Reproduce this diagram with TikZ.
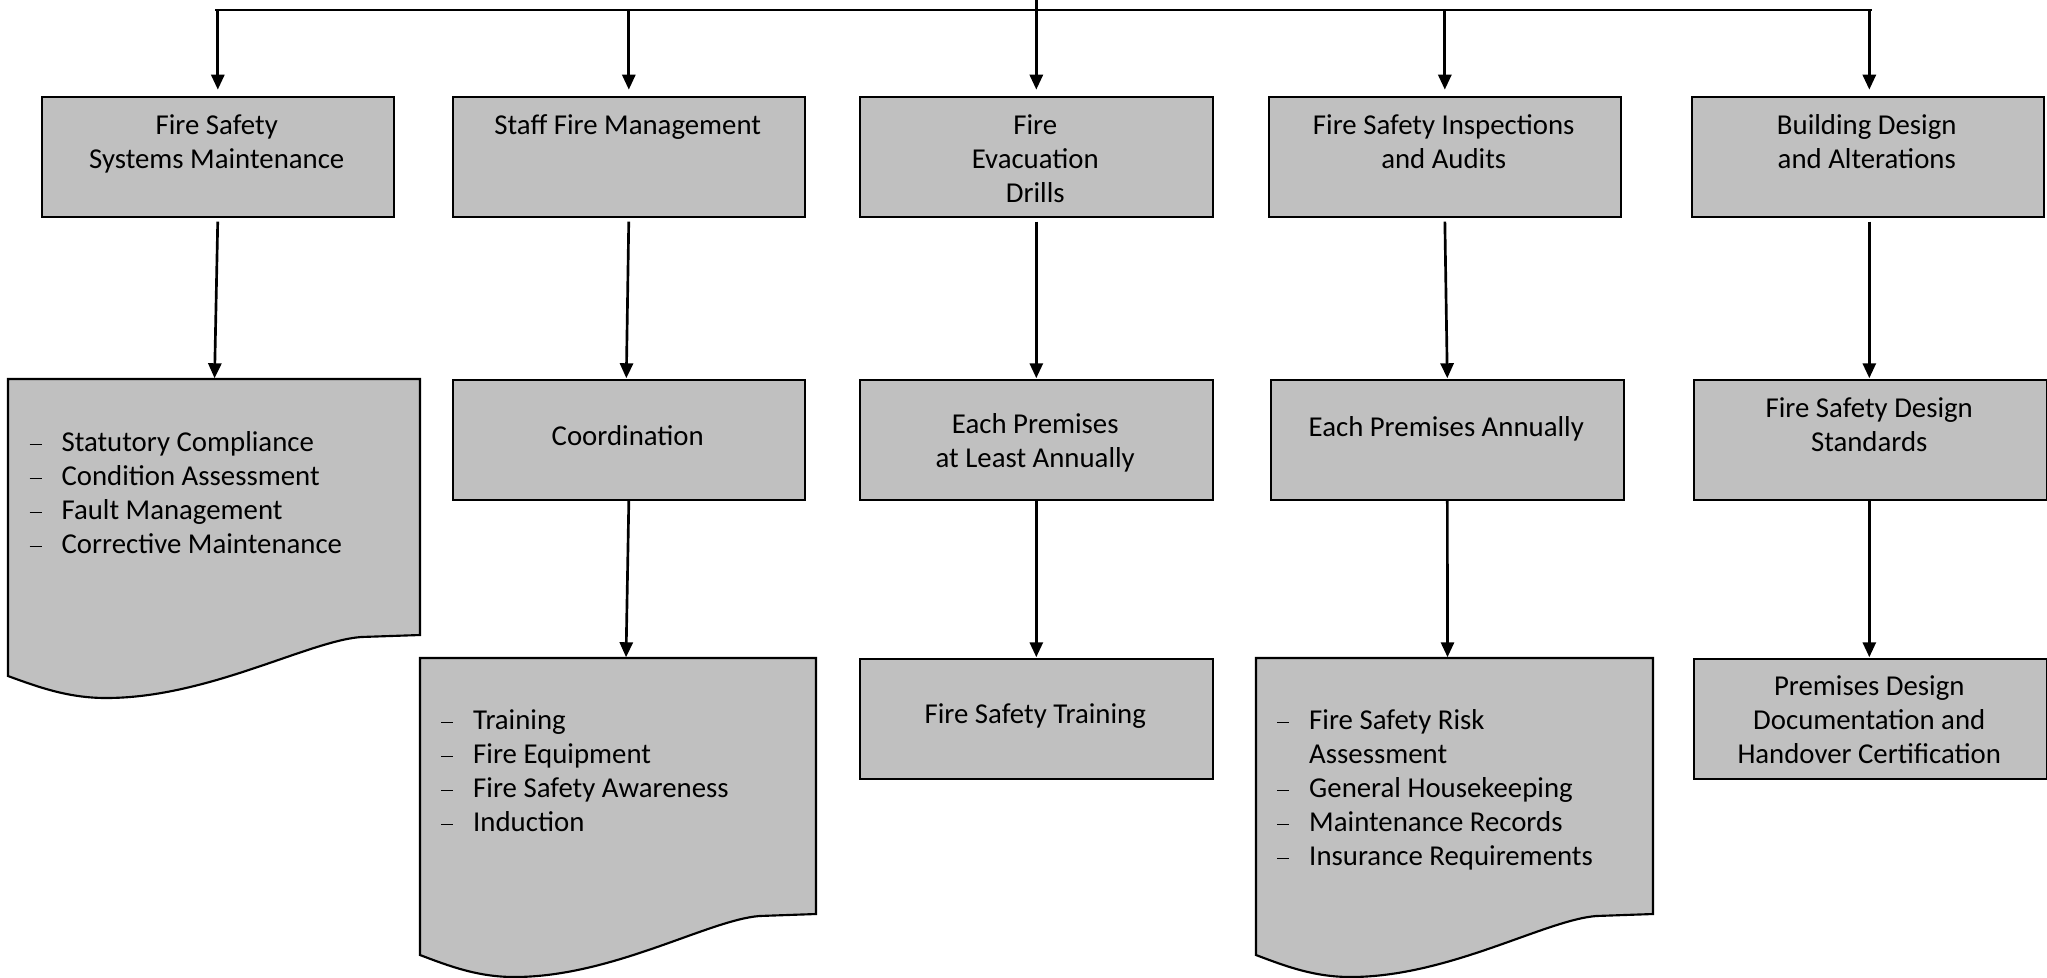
\documentclass[tikz,border=0pt]{standalone}
\usepackage{fontspec}
\setmainfont{Carlito}
\usetikzlibrary{arrows.meta,calc}
\definecolor{boxgray}{RGB}{192,192,192}
\newcommand\dsh{\rule[2.1pt]{4.5pt}{0.7pt}}
\newcommand\mybox[4]{\node[box,minimum width={#4*0.375pt},minimum height={120*0.375pt}] (#1) at (#2,#3) {};}
\newcommand\docshape[4]{%
  \filldraw[docsty] (#2,#3) -- ++(#4,0) -- ++(0,256) -- ({#2+0.857*#4},{#3+258})
    .. controls ({#2+0.728*#4},{#3+262}) and ({#2+0.485*#4},{#3+319}) .. ({#2+0.238*#4},{#3+319})
    .. controls ({#2+0.146*#4},{#3+319}) and ({#2+0.073*#4},{#3+308}) .. (#2,{#3+297}) -- cycle;
  \node[docarea,minimum width={#4*0.375pt},minimum height={256*0.375pt}] (#1) at (#2,#3) {};}
\begin{document}
\begin{tikzpicture}[x=0.375pt,y=-0.375pt,
  box/.style={draw=black,line width=0.8pt,fill=boxgray,inner sep=0pt,anchor=north west},
  docsty/.style={draw=black,line width=0.8pt,fill=boxgray},
  docarea/.style={inner sep=0pt,anchor=north west},
  lbl/.style={inner sep=0pt,anchor=base,font=\fontsize{10.8pt}{12.75pt}\selectfont},
  lst/.style={inner sep=0pt,anchor=base west,font=\fontsize{10.8pt}{12.75pt}\selectfont},
  conn/.style={line width=1pt},
  arr/.style={conn,-{Triangle[length=5.6pt,width=4.9pt]}}
]
\useasboundingbox (0,0) rectangle (2047,977);

% row 1
\mybox{B1}{40.5}{95.5}{352.5}
\mybox{B2}{451.5}{95.5}{352.5}
\mybox{B3}{859}{95.5}{352.5}
\mybox{B4}{1267.5}{95.5}{352.5}
\mybox{B5}{1690.5}{95.5}{352.5}
% row 2
\docshape{D1}{8}{379}{412}
\mybox{C2}{451.5}{379}{352.5}
\mybox{C3}{859}{379}{352.5}
\mybox{C4}{1270}{379}{352.5}
\mybox{C5}{1693}{379}{352.5}
% row 3
\docshape{D2}{420}{658}{396}
\mybox{E3}{859}{658}{352.5}
\docshape{D4}{1256}{658}{397}
\mybox{E5}{1693}{658}{352.5}

% labels
\node[lbl] (tB1) at (216.75,134) {\begin{tabular}[t]{@{}c@{}}Fire Safety\\Systems Maintenance\end{tabular}};
\node[lbl] (tB2) at (627.75,134) {\begin{tabular}[t]{@{}c@{}}Staff Fire Management\end{tabular}};
\node[lbl] (tB3) at (1035.25,134) {\begin{tabular}[t]{@{}c@{}}Fire\\Evacuation\\Drills\end{tabular}};
\node[lbl] (tB4) at (1443.75,134) {\begin{tabular}[t]{@{}c@{}}Fire Safety Inspections\\and Audits\end{tabular}};
\node[lbl] (tB5) at (1866.75,134) {\begin{tabular}[t]{@{}c@{}}Building Design\\and Alterations\end{tabular}};
\node[lbl] (tC2) at (627.75,445) {Coordination};
\node[lbl] (tC3) at (1035.25,433) {\begin{tabular}[t]{@{}c@{}}Each Premises\\at Least Annually\end{tabular}};
\node[lbl] (tC4) at (1446.25,436) {Each Premises Annually};
\node[lbl] (tC5) at (1869.25,417) {\begin{tabular}[t]{@{}c@{}}Fire Safety Design\\Standards\end{tabular}};
\node[lbl] (tE3) at (1035.25,723) {Fire Safety Training};
\node[lbl] (tE5) at (1869.25,695) {\begin{tabular}[t]{@{}c@{}}Premises Design\\Documentation and\\Handover Certification\end{tabular}};

\node[lst] (tD1) at (29,451) {\begin{tabular}[t]{@{}l@{\hspace{7.5pt}}l@{}}\dsh & Statutory Compliance\\\dsh & Condition Assessment\\\dsh & Fault Management\\\dsh & Corrective Maintenance\end{tabular}};
\node[lst] (tD2) at (440.7,729) {\begin{tabular}[t]{@{}l@{\hspace{7.5pt}}l@{}}\dsh & Training\\\dsh & Fire Equipment\\\dsh & Fire Safety Awareness\\\dsh & Induction\end{tabular}};
\node[lst] (tD4) at (1276.7,729) {\begin{tabular}[t]{@{}l@{\hspace{7.5pt}}l@{}}\dsh & Fire Safety Risk\\ & Assessment\\\dsh & General Housekeeping\\\dsh & Maintenance Records\\\dsh & Insurance Requirements\end{tabular}};

% connectors
\coordinate (busL) at (215,10);
\coordinate (busR) at (1871.5,10);
\coordinate (topC) at (1036,0);
\draw[conn] (busL) -- (busR);
\draw[arr,shorten >=2.2pt] (B3.north |- topC) -- (B3.north);
\foreach \n in {B1,B2,B4} \draw[arr,shorten >=2.2pt] (\n.north |- busL) -- (\n.north);
\draw[arr,shorten >=2.2pt] ($(B5.north |- busL)+(1.5,0)$) -- ($(B5.north)+(1.5,0)$);

\draw[arr,shorten <=1.5pt,shorten >=0.3pt] (B1.south) -- (D1.north);
\draw[arr,shorten <=1.5pt,shorten >=0.3pt] (B2.south) -- ($(C2.north)+(-2.5,0)$);
\draw[arr,shorten <=1.5pt,shorten >=0.3pt] (B3.south) -- (C3.north);
\draw[arr,shorten <=1.5pt,shorten >=0.3pt] (B4.south) -- (C4.north);
\draw[arr,shorten <=1.5pt,shorten >=0.3pt] ($(B5.south)+(1.5,0)$) -- ($(C5.north)+(-1,0)$);

\draw[arr,shorten >=0.3pt] (C2.south) -- ($(D2.north)+(7.5,0)$);
\draw[arr,shorten >=0.3pt] (C3.south) -- (E3.north);
\draw[arr,shorten >=0.3pt] (C4.south) -- ($(D4.north)+(-7.5,0)$);
\draw[arr,shorten >=0.3pt] ($(C5.south)+(-1,0)$) -- ($(E5.north)+(-1,0)$);
\end{tikzpicture}
\end{document}
